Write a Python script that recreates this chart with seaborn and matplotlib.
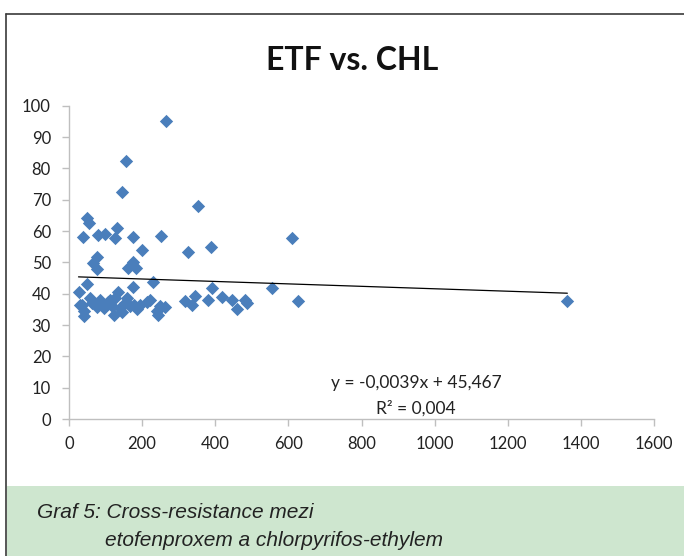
import numpy as np
import pandas as pd
import matplotlib.pyplot as plt
import matplotlib as mpl
import seaborn as sns

sns.set_style("ticks")
plt.rcParams["font.family"] = ["Lato", "DejaVu Sans"]

## DATA
etf_values = [265, 155, 146, 354, 49, 56, 39, 80, 99, 130, 126, 175, 251, 325, 388,
              609, 199, 76, 67, 76, 175, 160, 184, 229, 49, 174, 391, 555, 626, 1363,
              26, 135, 35, 40, 40, 58, 76, 95, 99, 113, 117, 122, 127, 145, 158,
              167, 186, 195, 213, 222, 240, 243, 249, 263, 318, 336, 345, 381, 418, 445,
              459, 482, 486, 86, 140, 177, 31, 62, 106, 152]
chl_values = [95, 82.5, 72.5, 68, 64, 62.5, 58.2, 58.6, 59.1, 60.9, 57.7, 58.1, 58.3, 53.4, 55,
              57.9, 53.8, 51.6, 49.8, 48, 50.1, 48.2, 48.1, 43.8, 43.2, 42.2, 41.9, 41.9, 37.6, 37.6,
              40.5, 40.5, 36.5, 34.5, 33.0, 38.5, 35.8, 35.5, 36.2, 38, 36, 33.2, 38.5, 34, 38.5,
              36, 35, 36.5, 37.5, 38, 34.5, 33.2, 36, 35.8, 37.6, 36.5, 39.2, 38, 39, 38,
              35, 38, 37, 38, 35.3, 36.5, 36.5, 37, 37.5, 37]
trend_slope = -0.0039
trend_intercept = 45.467
trend_r2 = 0.004

x_ticks = [0, 200, 400, 600, 800, 1000, 1200, 1400, 1600]
y_ticks = [0, 10, 20, 30, 40, 50, 60, 70, 80, 90, 100]

df = pd.DataFrame({"etf": etf_values, "chl": chl_values})

## PLOT
W, H = 684, 556
fig = plt.figure(figsize=(W / 100, H / 100), dpi=100)
ax = fig.add_axes([69 / W, 1 - 419 / H, (654 - 69) / W, (419 - 105.7) / H])

# trendline over the data range
tx = np.array([df["etf"].min(), df["etf"].max()])
ax.plot(tx, trend_slope * tx + trend_intercept, color="black", lw=0.9, zorder=3)

sns.scatterplot(data=df, x="etf", y="chl", ax=ax, marker="D", s=46,
                color="#4a7ebb", linewidth=0, zorder=2)

ax.set_xlim(0, 1600)
ax.set_ylim(0, 100)
ax.set_xticks(x_ticks)
ax.set_yticks(y_ticks)
ax.set_xlabel("")
ax.set_ylabel("")
for side in ["top", "right"]:
    ax.spines[side].set_visible(False)
for side in ["left", "bottom"]:
    ax.spines[side].set_color("#bfbfbf")
    ax.spines[side].set_linewidth(1.0)
ax.tick_params(axis="both", direction="out", length=5, width=1.0, color="#bfbfbf",
               labelsize=12, labelcolor="#222222")
ax.tick_params(axis="x", pad=7)
ax.tick_params(axis="y", pad=8)

eq = f"y = {trend_slope}x + {trend_intercept}".replace(".", ",")
ax.text(0.593, 0.115, eq, transform=ax.transAxes, ha="center", va="center",
        fontsize=12.5, color="#222222")
ax.text(0.593, 0.035, f"R² = {trend_r2}".replace(".", ","), transform=ax.transAxes,
        ha="center", va="center", fontsize=12.5, color="#222222")

fig.text(352 / W, 1 - 61 / H, "ETF vs. CHL", ha="center", va="center",
         fontsize=23, fontweight="bold", color="#111111")

# frame and caption box
fig.add_artist(mpl.patches.Rectangle((7 / W, 0), 1, (H - 486) / H,
                                     transform=fig.transFigure, facecolor="#cee6cf",
                                     edgecolor="none", zorder=0))
fig.add_artist(mpl.lines.Line2D([6 / W, 1], [1 - 14 / H, 1 - 14 / H],
                                transform=fig.transFigure, color="#3a3a3a", lw=1.2))
fig.add_artist(mpl.lines.Line2D([6 / W, 6 / W], [0, 1 - 14 / H],
                                transform=fig.transFigure, color="#3a3a3a", lw=1.2))

cap_font = ["Liberation Sans Narrow", "Liberation Sans", "DejaVu Sans"]
fig.text(37 / W, 1 - 513 / H, "Graf 5: Cross-resistance mezi", ha="left", va="center",
         fontsize=15, style="italic", family=cap_font, color="#222222")
fig.text(105 / W, 1 - 540 / H, "etofenproxem a chlorpyrifos-ethylem", ha="left",
         va="center", fontsize=15, style="italic", family=cap_font, color="#222222")

fig.savefig("out.png", dpi=100)
